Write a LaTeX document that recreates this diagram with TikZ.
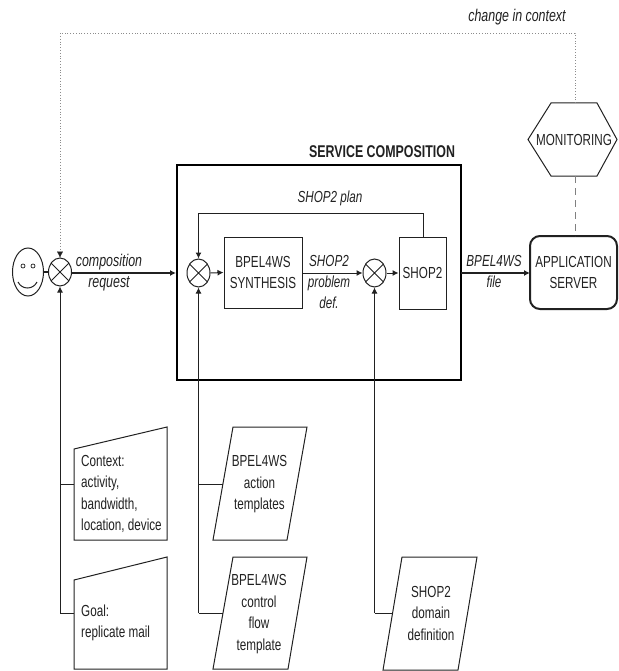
\documentclass[tikz,border=0pt]{standalone}
\usepackage{fontspec}
\setmainfont[FakeStretch=0.73]{Liberation Sans}
\usetikzlibrary{arrows.meta,shapes.geometric}
\definecolor{ink}{gray}{0.13}
\tikzset{
  x=1pt,y=-1pt,
  txt/.style={text=ink,inner sep=0pt,align=center,font=\fontsize{16}{21.5}\selectfont},
  ital/.style={txt,font=\fontsize{16}{21}\selectfont\itshape},
  italbig/.style={txt,font=\fontsize{17}{21}\selectfont\itshape},
  lft/.style={txt,align=left,anchor=west},
  shapeline/.style={draw=ink,line width=1pt,line join=miter},
  link/.style={draw=ink,line width=1pt},
  flow/.style={link,-{Latex[length=6pt,width=6pt]}},
  thickflow/.style={flow,line width=1.6pt},
  mix/.style={ellipse,draw=ink,line width=1pt,minimum width=23pt,minimum height=28pt,inner sep=0pt},
  corner/.style={inner sep=0pt,outer sep=0pt,minimum size=0pt},
  block/.style={rectangle,draw=ink,line width=1pt,inner sep=0pt,align=center,text=ink,font=\fontsize{16}{21.5}\selectfont}
}
\begin{document}
\begin{tikzpicture}
\useasboundingbox (0,0) rectangle (618,671);
% smiley
\node[ellipse,draw=ink,line width=1pt,minimum width=31pt,minimum height=48pt,inner sep=0pt] (face) at (28,272) {};
\node[circle,draw=ink,line width=0.7pt,minimum size=4pt,inner sep=0pt] (eyeL) at (23,266) {};
\node[circle,draw=ink,line width=0.7pt,minimum size=4pt,inner sep=0pt] (eyeR) at (33,266) {};
\coordinate (mouthL) at (18,282);
\coordinate (mouthR) at (37,282);
\draw[ink,line width=1pt] (mouthL) .. controls (22,290) and (33,290) .. (mouthR);
% mixers
\node[mix] (m1) at (60,272) {};
\node[mix] (m2) at (198.5,273) {};
\node[mix] (m3) at (374.5,273) {};
\foreach \m in {m1,m2,m3}{
  \draw[ink,line width=0.8pt] (\m.45) -- (\m.225) (\m.135) -- (\m.315);
}
% main boxes
\node[rectangle,draw=black,line width=2.6pt,minimum width=284pt,minimum height=215pt,inner sep=0pt] (svc) at (319,272.5) {};
\node[txt,font=\fontsize{17}{18}\selectfont\bfseries,anchor=center] (svcT) at (382,152) {SERVICE COMPOSITION};
\node[block,minimum width=78pt,minimum height=71pt] (syn) at (263,272.5) {BPEL4WS\\SYNTHESIS};
\node[block,minimum width=47pt,minimum height=72pt] (shop) at (422.5,273) {SHOP2};
\node[rectangle,rounded corners=10pt,draw=ink,line width=2pt,minimum width=87pt,minimum height=73pt,inner sep=0pt,align=center,text=ink,font=\fontsize{16}{21.5}\selectfont] (app) at (573.5,272.5) {APPLICATION\\SERVER};
% monitoring
\node[corner] (h1) at (551,103) {};
\node[corner] (h2) at (597,103) {};
\node[corner] (h3) at (617,139.5) {};
\node[corner] (h4) at (597,176) {};
\node[corner] (h5) at (551,176) {};
\node[corner] (h6) at (528,139.5) {};
\draw[shapeline] (h1.center) -- (h2.center) -- (h3.center) -- (h4.center) -- (h5.center) -- (h6.center) -- cycle;
\node[txt] (mon) at (574,140) {MONITORING};
\coordinate (monT) at (575,103);
\coordinate (monB) at (575,176);
\coordinate (appT) at (575,236);
% context
\node[corner] (c1) at (74,449) {};
\node[corner] (c2) at (167,427) {};
\node[corner] (c3) at (167,540) {};
\node[corner] (c4) at (74,540) {};
\draw[shapeline] (c1.center) -- (c2.center) -- (c3.center) -- (c4.center) -- cycle;
\node[lft] (ctx) at (81,494) {Context:\\activity,\\bandwidth,\\location, device};
% goal
\node[corner] (g1) at (74,580) {};
\node[corner] (g2) at (167,557) {};
\node[corner] (g3) at (167,669) {};
\node[corner] (g4) at (74,669) {};
\draw[shapeline] (g1.center) -- (g2.center) -- (g3.center) -- (g4.center) -- cycle;
\node[lft] (goal) at (81,623) {Goal:\\replicate mail};
% action templates
\node[corner] (a1) at (233,427) {};
\node[corner] (a2) at (307,427) {};
\node[corner] (a3) at (287,540) {};
\node[corner] (a4) at (213,540) {};
\draw[shapeline] (a1.center) -- (a2.center) -- (a3.center) -- (a4.center) -- cycle;
\node[txt] (act) at (259.5,484.5) {BPEL4WS\\action\\templates};
% control flow
\node[corner] (f1) at (233,557) {};
\node[corner] (f2) at (307,557) {};
\node[corner] (f3) at (288,669) {};
\node[corner] (f4) at (213,669) {};
\draw[shapeline] (f1.center) -- (f2.center) -- (f3.center) -- (f4.center) -- cycle;
\node[txt] (cfl) at (259,614) {BPEL4WS\\control\\flow\\template};
% domain
\node[corner] (d1) at (402,557) {};
\node[corner] (d2) at (477,557) {};
\node[corner] (d3) at (458,670) {};
\node[corner] (d4) at (383,670) {};
\draw[shapeline] (d1.center) -- (d2.center) -- (d3.center) -- (d4.center) -- cycle;
\node[txt] (dom) at (431,613) {SHOP2\\domain\\definition};
% labels
\node[italbig] (lchg) at (517,17) {change in context};
\node[ital] (lplan) at (330,198) {SHOP2 plan};
\node[italbig] (lreq) at (109,272.5) {composition\\request};
\node[ital] (lprob) at (329,282) {SHOP2\\problem\\def.};
\node[ital] (lfile) at (494,271.5) {BPEL4WS\\file};
% junction points
\coordinate (jc) at (60,484);
\coordinate (jg) at (60,613);
\coordinate (ja) at (198.5,484);
\coordinate (jf) at (198.5,613);
\coordinate (jd) at (374.5,613);
\coordinate (ec) at (74,484);
\coordinate (eg) at (74,613);
\coordinate (ea) at (222.5,484);
\coordinate (ef) at (223,613);
\coordinate (ed) at (392,613);
\coordinate (shopT) at (423,237);
\coordinate (planR) at (423,213);
\coordinate (planL) at (198.5,213);
\coordinate (dotR) at (575,33);
\coordinate (dotL) at (60,33);
\coordinate (svcL) at (176,273);
\coordinate (svcR) at (461,273);
\coordinate (appL) at (530,273);
% connectors
\draw[ink,line width=1.6pt] (face.east) -- (m1.west);
\draw[thickflow] (m1.east |- svcL) -- (svcL);
\draw[flow] (m2.east) -- (syn.west);
\draw[flow] (syn.east |- m3.west) -- (m3.west);
\draw[flow] (m3.east) -- (shop.west);
\draw[thickflow] (svcR) -- (appL);
\draw[link] (shopT) -- (planR) -- (planL);
\draw[flow] (planL) -- (m2.north);
\draw[flow] (jg) -- (m1.south);
\draw[link] (jc) -- (ec);
\draw[link] (jg) -- (eg);
\draw[flow] (jf) -- (m2.south);
\draw[link] (ja) -- (ea);
\draw[link] (jf) -- (ef);
\draw[flow] (jd) -- (m3.south);
\draw[link] (jd) -- (ed);
\draw[draw=gray,line width=0.9pt,dash pattern=on 7pt off 5pt] (monB) -- (appT);
\draw[draw=gray!90,line width=0.8pt,dotted] (monT) -- (dotR) -- (dotL) -- (m1.north);
\draw[ink,-{Latex[length=6pt,width=6pt]},line width=0.01pt] (60,256) -- (m1.north);
\end{tikzpicture}
\end{document}
